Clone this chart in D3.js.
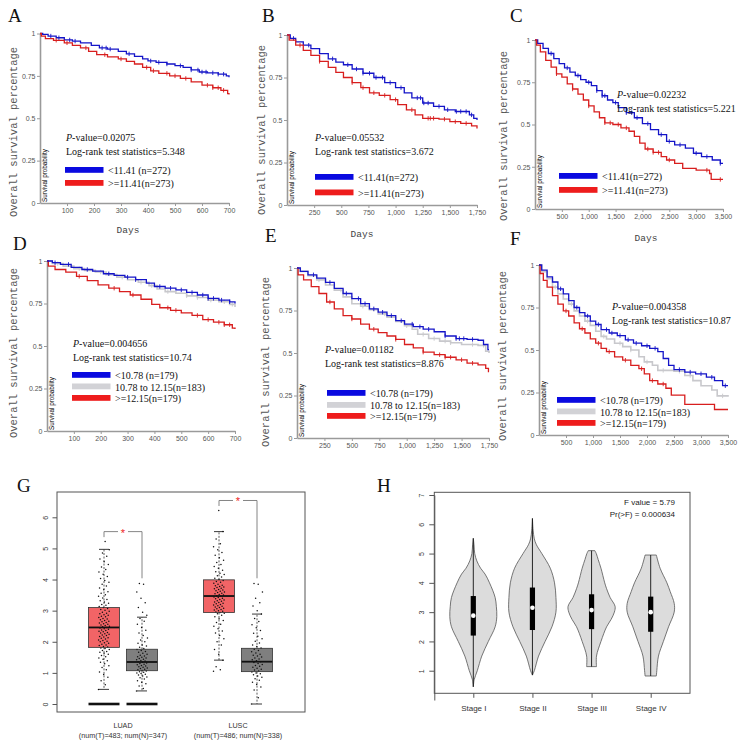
<!DOCTYPE html>
<html><head><meta charset="utf-8">
<script src="https://cdn.jsdelivr.net/npm/d3@7"></script>
<style>body{margin:0;background:#fff;} svg{display:block;}</style>
</head><body>
<svg id="fig" width="745" height="745"></svg>
<script>
// ---------------- DATA: Kaplan-Meier curves [days, survival] ----------------
const survTicks = [0, 0.25, 0.5, 0.75, 1];
const survTickLabels = ["0", "0.25", "0.5", "0.75", "1"];
const ticks700 = [100, 200, 300, 400, 500, 600, 700];
const ticks1750 = [250, 500, 750, 1000, 1250, 1500, 1750];
const ticks3500 = [500, 1000, 1500, 2000, 2500, 3000, 3500];

const A_low = [[0,1],[10,0.995],[30,0.985],[60,0.975],[90,0.962],[120,0.955],[150,0.945],[190,0.93],[220,0.915],[250,0.908],[290,0.895],[320,0.88],[350,0.865],[380,0.85],[400,0.838],[430,0.83],[470,0.82],[500,0.81],[530,0.8],[560,0.785],[590,0.773],[620,0.768],[660,0.76],[690,0.75],[700,0.742]];
const A_high = [[0,1],[5,0.985],[20,0.97],[50,0.96],[90,0.945],[120,0.93],[150,0.915],[180,0.895],[210,0.875],[250,0.862],[290,0.85],[320,0.835],[350,0.82],[380,0.8],[410,0.78],[440,0.765],[480,0.75],[520,0.735],[560,0.715],[600,0.695],[640,0.68],[670,0.665],[695,0.645],[700,0.64]];
const A_low_cens = [40,70,110,130,230,245,260,330,410,440,470,520,560,585,600,615,640,660,680];
const A_high_cens = [60,100,170,240,300,395,420,470,500,540,620,640,660,680];

const B_low = [[0,1],[30,0.98],[80,0.96],[150,0.94],[220,0.92],[300,0.89],[380,0.86],[450,0.84],[520,0.825],[600,0.8],[700,0.775],[800,0.75],[900,0.72],[1000,0.69],[1080,0.66],[1150,0.63],[1250,0.6],[1350,0.58],[1450,0.56],[1550,0.55],[1680,0.53],[1720,0.51],[1750,0.5]];
const B_high = [[0,1],[20,0.97],[80,0.94],[150,0.91],[220,0.88],[300,0.845],[380,0.81],[450,0.78],[520,0.75],[600,0.72],[680,0.69],[760,0.66],[850,0.645],[950,0.62],[1020,0.59],[1100,0.56],[1180,0.53],[1250,0.51],[1400,0.505],[1500,0.49],[1600,0.48],[1700,0.465],[1750,0.45]];
const B_low_cens = [60,200,420,560,640,700,760,820,880,950,1050,1200,1230,1260,1300,1400,1480,1560,1600,1650,1700];
const B_high_cens = [120,300,600,700,800,900,1000,1150,1300,1320,1350,1450,1550,1650];

const C_low = [[0,1],[50,0.98],[150,0.95],[250,0.92],[350,0.89],[450,0.86],[550,0.835],[650,0.81],[750,0.79],[850,0.765],[950,0.75],[1050,0.73],[1150,0.7],[1250,0.67],[1350,0.645],[1450,0.63],[1550,0.6],[1700,0.57],[1850,0.54],[2000,0.505],[2150,0.47],[2300,0.44],[2450,0.4],[2600,0.38],[2800,0.36],[2950,0.33],[3100,0.31],[3300,0.29],[3450,0.27],[3500,0.27]];
const C_high = [[0,1],[30,0.97],[100,0.93],[200,0.88],[300,0.84],[400,0.8],[500,0.78],[600,0.74],[700,0.71],[800,0.68],[900,0.645],[1000,0.61],[1100,0.575],[1200,0.54],[1300,0.51],[1450,0.5],[1600,0.48],[1750,0.46],[1850,0.43],[1950,0.39],[2050,0.355],[2200,0.335],[2350,0.31],[2450,0.29],[2600,0.27],[2750,0.24],[3000,0.23],[3250,0.21],[3280,0.175],[3500,0.175]];
const C_low_cens = [300,600,800,1000,1150,1250,1300,1500,1700,1800,1900,2100,2350,2500,2700,3000,3200,3450];
const C_high_cens = [400,700,1000,1300,1400,1550,1700,2100,2200,2300,2500,3200,3450];

const D_low = [[0,1],[20,0.99],[50,0.98],[90,0.962],[130,0.95],[170,0.94],[210,0.925],[250,0.915],[290,0.905],[330,0.89],[370,0.87],[400,0.85],[440,0.84],[480,0.83],[520,0.815],[560,0.8],[600,0.78],[640,0.77],[680,0.76],[700,0.75]];
const D_mid = [[0,1],[20,0.985],[60,0.97],[100,0.955],[140,0.945],[180,0.935],[220,0.92],[260,0.905],[300,0.89],[340,0.875],[380,0.855],[410,0.835],[440,0.82],[480,0.81],[520,0.795],[560,0.785],[600,0.77],[640,0.76],[680,0.745],[700,0.73]];
const D_high = [[0,1],[5,0.97],[30,0.95],[70,0.935],[110,0.91],[150,0.885],[190,0.86],[230,0.84],[270,0.82],[310,0.8],[350,0.775],[390,0.745],[420,0.725],[460,0.71],[500,0.695],[540,0.68],[580,0.655],[620,0.64],[660,0.625],[690,0.605],[700,0.6]];
const D_low_cens = [30,80,150,230,300,330,420,460,500,540,580,600,620,650,680];
const D_mid_cens = [40,120,200,280,350,390,450,520,560,610,660,690];
const D_high_cens = [120,250,320,450,480,560,600,640,660,680];

const E_low = [[0,1],[30,0.98],[100,0.96],[180,0.94],[260,0.915],[340,0.88],[420,0.85],[500,0.82],[580,0.79],[660,0.76],[740,0.74],[820,0.72],[900,0.69],[980,0.67],[1060,0.655],[1150,0.64],[1250,0.625],[1350,0.6],[1450,0.585],[1550,0.58],[1650,0.575],[1700,0.55],[1740,0.52],[1750,0.52]];
const E_mid = [[0,1],[30,0.98],[100,0.955],[180,0.93],[260,0.9],[340,0.87],[420,0.83],[500,0.79],[580,0.775],[660,0.755],[740,0.73],[820,0.71],[900,0.685],[980,0.66],[1050,0.64],[1100,0.61],[1200,0.585],[1300,0.57],[1400,0.56],[1500,0.55],[1650,0.545],[1720,0.51],[1750,0.5]];
const E_high = [[0,1],[10,0.96],[60,0.93],[130,0.89],[200,0.85],[270,0.8],[340,0.76],[420,0.72],[500,0.7],[580,0.67],[660,0.64],[740,0.62],[820,0.6],[900,0.58],[980,0.55],[1060,0.53],[1150,0.505],[1250,0.49],[1350,0.475],[1450,0.46],[1550,0.44],[1650,0.43],[1720,0.41],[1745,0.39],[1750,0.39]];
const E_low_cens = [150,300,450,560,620,700,780,860,950,1050,1120,1200,1350,1450,1480,1520,1600];
const E_mid_cens = [200,400,600,700,800,1000,1150,1250,1350,1400,1600,1700];
const E_high_cens = [300,500,700,900,1150,1300,1350,1400,1500,1600];

const F_low = [[0,1],[50,0.97],[150,0.93],[250,0.9],[350,0.86],[450,0.83],[550,0.79],[650,0.75],[750,0.72],[850,0.7],[950,0.67],[1050,0.65],[1150,0.62],[1300,0.6],[1450,0.585],[1600,0.56],[1750,0.54],[1900,0.525],[2050,0.51],[2200,0.49],[2300,0.45],[2400,0.41],[2500,0.385],[2700,0.37],[2900,0.36],[3100,0.34],[3250,0.32],[3400,0.29],[3500,0.29]];
const F_mid = [[0,1],[50,0.96],[150,0.92],[250,0.87],[350,0.83],[450,0.8],[550,0.77],[650,0.73],[750,0.7],[850,0.67],[950,0.645],[1050,0.61],[1150,0.58],[1250,0.565],[1400,0.54],[1550,0.52],[1700,0.5],[1850,0.46],[1950,0.43],[2100,0.41],[2200,0.38],[2500,0.375],[2700,0.35],[2850,0.32],[3000,0.29],[3200,0.265],[3300,0.23],[3500,0.225]];
const F_high = [[0,1],[20,0.95],[80,0.91],[150,0.87],[250,0.82],[350,0.77],[450,0.73],[550,0.7],[650,0.66],[750,0.625],[850,0.6],[950,0.565],[1050,0.54],[1150,0.51],[1250,0.49],[1400,0.46],[1550,0.44],[1700,0.41],[1850,0.39],[1950,0.36],[2050,0.32],[2200,0.3],[2350,0.275],[2450,0.235],[2700,0.18],[3250,0.15],[3500,0.15]];
const F_low_cens = [400,700,900,1100,1250,1350,1500,1650,1800,2000,2150,2600,2800,3000,3200,3450];
const F_mid_cens = [300,600,900,1200,1500,1700,2000,2300,2600,2800,3400];
const F_high_cens = [500,800,1100,1300,1600,1900,2100,2300];

// ---------------- DATA: panel G boxplots ----------------
const gCategories = ["LUAD", "LUSC"];
const gSubLabels = ["(num(T)=483; num(N)=347)", "(num(T)=486; num(N)=338)"];
const gTicks = [0, 1, 2, 3, 4, 5, 6];
const tumorQ1 = [1.82, 2.94], tumorMed = [2.46, 3.47], tumorQ3 = [3.10, 3.99], tumorLo = [0.47, 1.41], tumorHi = [4.97, 5.54];
const normalQ1 = [1.07, 1.04], normalMed = [1.35, 1.36], normalQ3 = [1.76, 1.79], normalLo = [0.42, 0.0], normalHi = [2.79, 2.89];
const zeroClusterCats = ["LUAD"];
const sigBracketTop = [5.54, 6.54], sigBracketBottom = [4.04, 4.04];
const LUAD_T = [0.47,0.62,0.75,0.86,0.95,1.03,1.1,1.17,1.23,1.29,1.34,1.39,1.44,1.48,1.52,1.56,1.6,1.63,1.66,1.69,1.72,1.75,1.78,1.8,1.83,1.85,1.88,1.9,1.92,1.95,1.97,2.0,2.02,2.04,2.06,2.09,2.11,2.13,2.15,2.17,2.2,2.22,2.24,2.26,2.28,2.3,2.32,2.34,2.36,2.38,2.4,2.42,2.44,2.46,2.48,2.5,2.52,2.54,2.56,2.58,2.6,2.62,2.64,2.66,2.68,2.71,2.73,2.75,2.78,2.8,2.82,2.85,2.87,2.9,2.92,2.95,2.98,3.01,3.04,3.07,3.1,3.13,3.17,3.2,3.24,3.28,3.32,3.36,3.41,3.46,3.51,3.56,3.61,3.67,3.73,3.79,3.85,3.91,3.97,4.03,4.1,4.17,4.24,4.32,4.4,4.48,4.57,4.66,4.75,4.85,4.96,5.22];
const LUAD_N = [0.42,0.5,0.58,0.65,0.7,0.75,0.8,0.84,0.87,0.9,0.93,0.96,0.98,1.0,1.02,1.04,1.06,1.08,1.1,1.12,1.14,1.16,1.18,1.2,1.22,1.24,1.26,1.28,1.3,1.32,1.34,1.36,1.38,1.4,1.42,1.44,1.46,1.48,1.5,1.52,1.54,1.57,1.6,1.63,1.66,1.69,1.72,1.75,1.78,1.82,1.86,1.9,1.95,2.0,2.06,2.12,2.2,2.28,2.37,2.46,2.56,2.66,2.75,2.85,2.95,3.1,3.25,3.4,3.6,3.85,3.87];
const LUSC_T = [1.05,1.1,1.2,1.41,1.6,1.75,1.9,2.0,2.1,2.2,2.28,2.35,2.42,2.5,2.56,2.62,2.68,2.74,2.8,2.85,2.9,2.92,2.94,2.96,2.98,3.0,3.02,3.04,3.06,3.08,3.1,3.12,3.14,3.16,3.18,3.2,3.22,3.24,3.26,3.28,3.3,3.32,3.34,3.36,3.38,3.4,3.42,3.44,3.46,3.48,3.5,3.52,3.54,3.56,3.58,3.6,3.62,3.64,3.66,3.68,3.7,3.72,3.74,3.76,3.78,3.8,3.82,3.85,3.88,3.91,3.94,3.97,4.0,4.04,4.08,4.12,4.16,4.2,4.25,4.3,4.36,4.42,4.48,4.55,4.62,4.7,4.78,4.87,4.96,5.05,5.15,5.3,5.54,6.22];
const LUSC_N = [0.0,0.2,0.45,0.55,0.63,0.7,0.76,0.81,0.86,0.9,0.94,0.97,1.0,1.03,1.06,1.09,1.12,1.15,1.18,1.21,1.24,1.27,1.3,1.33,1.36,1.39,1.42,1.45,1.48,1.51,1.54,1.57,1.6,1.64,1.68,1.72,1.76,1.8,1.85,1.9,1.96,2.02,2.1,2.18,2.27,2.36,2.45,2.55,2.65,2.75,2.89,3.0,3.15,3.25,3.4,3.6,3.85,3.87];

// ---------------- DATA: panel H violins ----------------
const stages = ["Stage I", "Stage II", "Stage III", "Stage IV"];
const hTicks = [1, 2, 3, 4, 5, 6, 7];
const vMin = [0.45, 0.85, 1.14, 0.82], vMax = [5.52, 6.2, 5.1, 4.95];
const vQ1 = [2.2, 2.39, 2.42, 2.33], vQ3 = [3.55, 3.84, 3.61, 3.53], vMed = [2.88, 3.15, 3.07, 3.0];
// density profiles: [value, relative density]
const dens1 = [[0.45,0],[0.7,0.04],[1,0.17],[1.5,0.36],[2,0.64],[2.5,0.93],[2.85,1.0],[3.2,0.98],[3.5,0.93],[4,0.69],[4.3,0.5],[4.5,0.31],[4.75,0.15],[5,0.06],[5.3,0.03],[5.52,0]];
const dens2 = [[0.85,0],[1,0.08],[1.5,0.26],[2,0.54],[2.5,0.83],[3,1.0],[3.5,1.0],[4,0.94],[4.5,0.76],[5,0.4],[5.3,0.17],[5.5,0.08],[5.8,0.03],[6.2,0]];
const dens3 = [[1.14,0.21],[1.5,0.21],[2,0.4],[2.5,0.64],[2.75,0.83],[3,0.97],[3.2,1.0],[3.5,0.79],[3.8,0.64],[4,0.56],[4.5,0.4],[4.8,0.28],[5,0.2],[5.1,0.14]];
const dens4 = [[0.82,0.24],[1,0.26],[1.5,0.33],[2,0.54],[2.5,0.76],[3,1.0],[3.3,1.0],[3.7,0.83],[4,0.69],[4.5,0.4],[4.95,0.24]];
const densities = [dens1, dens2, dens3, dens4];

// ---------------- DRAWING ----------------
const svg = d3.select("#fig");
const SERIF = "'Liberation Serif','Times New Roman',serif";
const MONO = "'Liberation Mono','DejaVu Sans Mono',monospace";
const SANS = "'Liberation Sans',Arial,sans-serif";
const COL = {low: "#1414c8", mid: "#c8c8cc", high: "#d81e1e"};
const LEG = {low: "#0a0ae0", mid: "#d2d2d6", high: "#ee1c1c"};

const kmPanels = [
  {letter:"A", lx:8, ly:22, x0:40, x1:229, yt:33.5, yb:203, xmax:700, ticks:ticks700,
   ylab:[12.5,132], days:[128,233],
   p:[66,141], lr:"Log-rank test statistics=5.348", pv:"=0.02075",
   curves:[["low",A_low,A_low_cens],["high",A_high,A_high_cens]],
   leg:[["low","<11.41 (n=272)",167],["high",">=11.41(n=273)",180]], legx:65},
  {letter:"B", lx:262, ly:22, x0:287, x1:477, yt:35, yb:205, xmax:1750, ticks:ticks1750,
   ylab:[261,130], days:[362,237],
   p:[315,141], lr:"Log-rank test statistics=3.672", pv:"=0.05532",
   curves:[["low",B_low,B_low_cens],["high",B_high,B_high_cens]],
   leg:[["low","<11.41(n=272)",174],["high",">=11.41(n=273)",189.5]], legx:315},
  {letter:"C", lx:510, ly:22, x0:535, x1:723, yt:40, yb:209, xmax:3500, ticks:ticks3500,
   ylab:[503,136], days:[646,241],
   p:[617,98], lr:"Log-rank test statistics=5.221", pv:"=0.02232",
   curves:[["low",C_low,C_low_cens],["high",C_high,C_high_cens]],
   leg:[["low","<11.41(n=272)",173],["high",">=11.41(n=273)",187]], legx:559},
  {letter:"D", lx:13, ly:250, x0:47, x1:235, yt:261, yb:431, xmax:700, ticks:ticks700,
   ylab:[13,353], days:null,
   p:[73,347], lr:"Log-rank test statistics=10.74", pv:"=0.004656",
   curves:[["mid",D_mid,D_mid_cens],["high",D_high,D_high_cens],["low",D_low,D_low_cens]],
   leg:[["low","<10.78 (n=179)",372],["mid","10.78 to 12.15(n=183)",383.5],["high",">=12.15(n=179)",395]], legx:72},
  {letter:"E", lx:265, ly:242, x0:297, x1:489, yt:268, yb:438, xmax:1750, ticks:ticks1750,
   ylab:[265,362], days:null,
   p:[325,353], lr:"Log-rank test statistics=8.876", pv:"=0.01182",
   curves:[["mid",E_mid,E_mid_cens],["high",E_high,E_high_cens],["low",E_low,E_low_cens]],
   leg:[["low","<10.78 (n=179)",390],["mid","10.78 to 12.15(n=183)",402],["high",">=12.15(n=179)",413]], legx:327},
  {letter:"F", lx:510, ly:245, x0:539, x1:728, yt:265, yb:435, xmax:3500, ticks:ticks3500,
   ylab:[502,356], days:null,
   p:[612,310], lr:"Log-rank test statistics=10.87", pv:"=0.004358",
   curves:[["mid",F_mid,F_mid_cens],["high",F_high,F_high_cens],["low",F_low,F_low_cens]],
   leg:[["low","<10.78 (n=179)",397],["mid","10.78 to 12.15(n=183)",408.5],["high",">=12.15(n=179)",420]], legx:557}
];

function survAt(curve, t) {
  let s = curve[0][1];
  for (const d of curve) { if (d[0] <= t) s = d[1]; else break; }
  return s;
}

kmPanels.forEach(p => {
  const g = svg.append("g");
  const x = d3.scaleLinear().domain([0, p.xmax]).range([p.x0, p.x1]);
  const y = d3.scaleLinear().domain([0, 1]).range([p.yb, p.yt]);

  g.append("text").attr("x", p.lx).attr("y", p.ly).text(p.letter)
    .style("font-family", SERIF).style("font-size", "19px").attr("fill", "#111");

  const ya = g.append("g").attr("transform", `translate(${p.x0},0)`)
    .call(d3.axisLeft(y).tickValues(survTicks).tickFormat((d, i) => survTickLabels[i]).tickSize(3).tickSizeOuter(0).tickPadding(1.5));
  const xa = g.append("g").attr("transform", `translate(0,${p.yb})`)
    .call(d3.axisBottom(x).tickValues(p.ticks).tickFormat(d3.format(",")).tickSize(3).tickSizeOuter(0).tickPadding(2));
  [ya, xa].forEach(a => {
    a.select(".domain").attr("stroke", "#9a9a9a").attr("stroke-width", 1.6);
    a.selectAll(".tick line").attr("stroke", "#9a9a9a");
    a.selectAll("text").attr("fill", "#555").style("font-family", SANS).style("font-size", "7px");
  });

  const line = d3.line().x(d => x(d[0])).y(d => y(d[1])).curve(d3.curveStepAfter);
  p.curves.forEach(([key, data, cens]) => {
    g.append("path").datum(data).attr("d", line).attr("fill", "none")
      .attr("stroke", COL[key]).attr("stroke-width", key === "mid" ? 1.6 : 1.3);
    g.selectAll(null).data(cens).enter().append("line")
      .attr("x1", d => x(d)).attr("x2", d => x(d))
      .attr("y1", d => y(survAt(data, d)) - 2.2).attr("y2", d => y(survAt(data, d)) + 2.2)
      .attr("stroke", COL[key]).attr("stroke-width", 0.9);
  });

  g.append("text").attr("transform", `translate(${p.x0 + 6.5},${p.yb - 1}) rotate(-90)`)
    .text("Survival probability").style("font-family", SANS).style("font-size", "6.3px").attr("fill", "#000");

  g.append("text").attr("transform", `translate(${p.ylab[0] + 4},${p.ylab[1]}) rotate(-90)`)
    .attr("text-anchor", "middle").text("Overall survival percentage")
    .style("font-family", MONO).style("font-size", "10.5px").attr("fill", "#555");
  if (p.days) {
    g.append("text").attr("x", p.days[0]).attr("y", p.days[1]).attr("text-anchor", "middle")
      .text("Days").style("font-family", MONO).style("font-size", "9.5px").attr("fill", "#444");
  }

  const t1 = g.append("text").attr("x", p.p[0]).attr("y", p.p[1])
    .style("font-family", SERIF).style("font-size", "10px").attr("fill", "#111");
  t1.append("tspan").style("font-style", "italic").text("P");
  t1.append("tspan").text("-value" + p.pv);
  g.append("text").attr("x", p.p[0]).attr("y", p.p[1] + 14).text(p.lr)
    .style("font-family", SERIF).style("font-size", "10px").attr("fill", "#111");

  p.leg.forEach(([key, label, ly]) => {
    g.append("rect").attr("x", p.legx).attr("y", ly).attr("width", 38.5).attr("height", 5.8).attr("fill", LEG[key]);
    g.append("text").attr("x", p.legx + 43).attr("y", ly + 7).text(label)
      .style("font-family", SERIF).style("font-size", "10px").attr("fill", "#111");
  });
});

// ---------------- Panel G ----------------
(function () {
  const g = svg.append("g");
  g.append("text").attr("x", 17).attr("y", 492).text("G").style("font-family", SERIF).style("font-size", "19px").attr("fill", "#111");
  const fx0 = 57, fx1 = 305, fy0 = 492, fy1 = 712;
  const y = d3.scaleLinear().domain([0, 6]).range([704, 517.3]);
  const xc = d3.scalePoint().domain(gCategories).range([123, 238]);
  const off = 19, bw = 31;

  g.append("rect").attr("x", fx0).attr("y", fy0).attr("width", fx1 - fx0).attr("height", fy1 - fy0)
    .attr("fill", "none").attr("stroke", "#555").attr("stroke-width", 1);
  const ya = g.append("g").attr("transform", `translate(${fx0},0)`)
    .call(d3.axisLeft(y).tickValues(gTicks).tickFormat(d3.format("d")).tickSize(4.5).tickSizeOuter(0));
  ya.select(".domain").remove();
  ya.selectAll(".tick line").attr("stroke", "#555");
  ya.selectAll(".tick text").attr("x", null).attr("dy", null)
    .attr("transform", "translate(-9,0) rotate(-90)").attr("text-anchor", "middle")
    .attr("fill", "#333").style("font-family", SANS).style("font-size", "7px");

  gCategories.forEach((c, i) => {
    g.append("text").attr("x", xc(c)).attr("y", 728).attr("text-anchor", "middle").text(c)
      .style("font-family", SANS).style("font-size", "7.2px").attr("fill", "#333");
    g.append("text").attr("x", xc(c)).attr("y", 737.5).attr("text-anchor", "middle").text(gSubLabels[i])
      .style("font-family", SANS).style("font-size", "7.2px").attr("fill", "#333");
  });

  const groups = [
    {cat: "LUAD", dx: -off, fill: "#f26466", q1: tumorQ1[0], med: tumorMed[0], q3: tumorQ3[0], lo: tumorLo[0], hi: tumorHi[0], pts: LUAD_T},
    {cat: "LUAD", dx: off, fill: "#7f7f7f", q1: normalQ1[0], med: normalMed[0], q3: normalQ3[0], lo: normalLo[0], hi: normalHi[0], pts: LUAD_N},
    {cat: "LUSC", dx: -off, fill: "#f26466", q1: tumorQ1[1], med: tumorMed[1], q3: tumorQ3[1], lo: tumorLo[1], hi: tumorHi[1], pts: LUSC_T},
    {cat: "LUSC", dx: off, fill: "#7f7f7f", q1: normalQ1[1], med: normalMed[1], q3: normalQ3[1], lo: normalLo[1], hi: normalHi[1], pts: LUSC_N}
  ];
  groups.forEach(b => {
    const cx = xc(b.cat) + b.dx;
    g.append("line").attr("x1", cx).attr("x2", cx).attr("y1", y(b.q3)).attr("y2", y(b.hi))
      .attr("stroke", "#333").attr("stroke-width", 0.8).attr("stroke-dasharray", "2,1.5");
    g.append("line").attr("x1", cx).attr("x2", cx).attr("y1", y(b.q1)).attr("y2", y(b.lo))
      .attr("stroke", "#333").attr("stroke-width", 0.8).attr("stroke-dasharray", "2,1.5");
    [b.hi, b.lo].forEach(v => g.append("line").attr("x1", cx - 5).attr("x2", cx + 5).attr("y1", y(v)).attr("y2", y(v))
      .attr("stroke", "#222").attr("stroke-width", 0.9));
    g.append("rect").attr("x", cx - bw / 2).attr("y", y(b.q3)).attr("width", bw).attr("height", y(b.q1) - y(b.q3))
      .attr("fill", b.fill);
    if (zeroClusterCats.includes(b.cat)) {
      g.append("line").attr("x1", cx - bw / 2).attr("x2", cx + bw / 2).attr("y1", y(0)).attr("y2", y(0))
        .attr("stroke", "#111").attr("stroke-width", 2.6);
    }
    g.selectAll(null).data(b.pts).enter().append("circle")
      .attr("cx", (d, i) => cx + (((i * 0.618034) % 1) - 0.5) * 11)
      .attr("cy", d => y(d)).attr("r", 0.75).attr("fill", "#111");
    g.append("line").attr("x1", cx - bw / 2).attr("x2", cx + bw / 2).attr("y1", y(b.med)).attr("y2", y(b.med))
      .attr("stroke", "#111").attr("stroke-width", 1.8);
    g.append("rect").attr("x", cx - bw / 2).attr("y", y(b.q3)).attr("width", bw).attr("height", y(b.q1) - y(b.q3))
      .attr("fill", "none").attr("stroke", "#333").attr("stroke-width", 0.8);
  });

  gCategories.forEach((c, i) => {
    const xl = xc(c) - off, xr = xc(c) + off, yt = y(sigBracketTop[i]);
    g.append("path").attr("d", `M${xl},${yt + 5.5}V${yt}H${xr}V${y(sigBracketBottom[i])}`)
      .attr("fill", "none").attr("stroke", "#777").attr("stroke-width", 0.9);
    g.append("rect").attr("x", xc(c) - 5).attr("y", yt - 3).attr("width", 10).attr("height", 6).attr("fill", "#fff");
    g.append("text").attr("x", xc(c)).attr("y", yt + 5).attr("text-anchor", "middle").text("*")
      .style("font-family", SANS).style("font-size", "11px").attr("fill", "#e22");
  });
})();

// ---------------- Panel H ----------------
(function () {
  const g = svg.append("g");
  g.append("text").attr("x", 377).attr("y", 492).text("H").style("font-family", SERIF).style("font-size", "19px").attr("fill", "#111");
  const fx0 = 434.3, fx1 = 690, fy0 = 492.3, fy1 = 693.3;
  const y = d3.scaleLinear().domain([0, 7]).range([700, 495]);
  const xc = d3.scalePoint().domain(stages).range([473.3, 650.7]);
  const w = d3.scaleLinear().domain([0, 1]).range([0, 23.5]);

  g.append("rect").attr("x", fx0).attr("y", fy0).attr("width", fx1 - fx0).attr("height", fy1 - fy0)
    .attr("fill", "none").attr("stroke", "#555").attr("stroke-width", 1);
  const ya = g.append("g").attr("transform", `translate(${fx0},0)`)
    .call(d3.axisLeft(y).tickValues(hTicks).tickFormat(d3.format("d")).tickSize(5).tickSizeOuter(0));
  ya.select(".domain").attr("stroke", "#555");
  ya.selectAll(".tick line").attr("stroke", "#555");
  ya.selectAll(".tick text").attr("x", null).attr("dy", null)
    .attr("transform", "translate(-10,0) rotate(-90)").attr("text-anchor", "middle")
    .attr("fill", "#333").style("font-family", SANS).style("font-size", "7px");
  const xa = g.append("g").attr("transform", `translate(0,${fy1})`)
    .call(d3.axisBottom(xc).tickSize(4.5).tickSizeOuter(0).tickPadding(8));
  xa.select(".domain").remove();
  xa.selectAll(".tick line").attr("stroke", "#555");
  xa.selectAll(".tick text").attr("fill", "#333").style("font-family", SANS).style("font-size", "8px");

  stages.forEach((s, i) => {
    const cx = xc(s);
    const area = d3.area().y(d => y(d[0])).x0(d => cx - w(d[1])).x1(d => cx + w(d[1])).curve(d3.curveCatmullRom);
    g.append("path").datum(densities[i]).attr("d", area).attr("fill", "#dcdcdc").attr("stroke", "#555").attr("stroke-width", 0.8);
    g.append("line").attr("x1", cx).attr("x2", cx).attr("y1", y(vMin[i])).attr("y2", y(vMax[i])).attr("stroke", "#111").attr("stroke-width", 0.9);
    g.append("rect").attr("x", cx - 2.6).attr("y", y(vQ3[i])).attr("width", 5.2).attr("height", y(vQ1[i]) - y(vQ3[i])).attr("fill", "#000");
    g.append("circle").attr("cx", cx).attr("cy", y(vMed[i])).attr("r", 2.3).attr("fill", "#fff");
  });

  g.append("text").attr("x", 675).attr("y", 504.5).attr("text-anchor", "end").text("F value = 5.79")
    .style("font-family", SANS).style("font-size", "8px").attr("fill", "#222");
  g.append("text").attr("x", 675).attr("y", 516.5).attr("text-anchor", "end").text("Pr(>F) = 0.000634")
    .style("font-family", SANS).style("font-size", "8px").attr("fill", "#222");
})();
</script></body></html>
